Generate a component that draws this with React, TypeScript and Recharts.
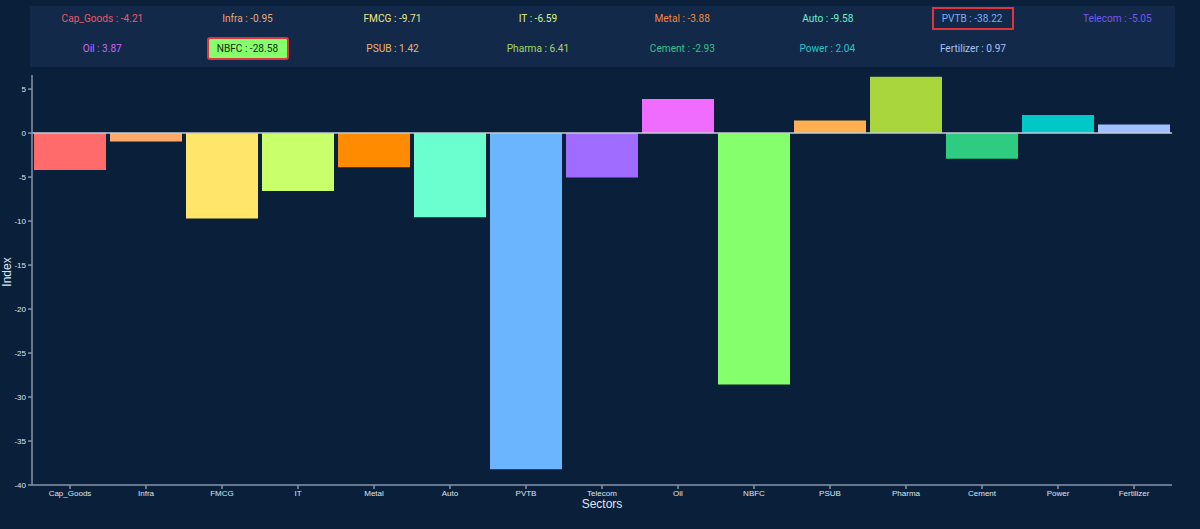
import { BarChart, Bar, XAxis, YAxis, Cell, ReferenceLine } from "recharts";

const sectors = [
  "Cap_Goods", "Infra", "FMCG", "IT", "Metal", "Auto", "PVTB", "Telecom",
  "Oil", "NBFC", "PSUB", "Pharma", "Cement", "Power", "Fertilizer",
];
const values = [
  -4.21, -0.95, -9.71, -6.59, -3.88, -9.58, -38.22, -5.05,
  3.87, -28.58, 1.42, 6.41, -2.93, 2.04, 0.97,
];
const barColors = [
  "#ff6b6b", "#ffa96b", "#ffe66b", "#c8ff6b", "#ff8c00", "#6bffd0", "#6bb5ff", "#a06bff",
  "#f06bff", "#85ff6b", "#ffb050", "#a8d63c", "#2ecc80", "#00c8c8", "#a0c0ff",
];
const legendColors = [
  "#e85a68", "#e8a878", "#f0e488", "#d8f288", "#ee8a3c", "#6af2c8", "#78aef2", "#7458f0",
  "#d068f2", "#1a2a10", "#f0b468", "#a8d85a", "#34c488", "#28c4c8", "#a8c4f2",
];
const yTicks = [-40, -35, -30, -25, -20, -15, -10, -5, 0, 5];

const data = sectors.map((name, i) => ({ name, value: values[i] }));

const BG = "#0a1f3a";
const AXIS = "#8494aa";
const TEXT = "#dfe6ee";

function LegendPanel() {
  return (
    <div
      style={{
        position: "absolute",
        left: 30,
        top: 6,
        width: 1145,
        height: 61,
        background: "#12294a",
        display: "grid",
        gridTemplateColumns: "repeat(8, 145px)",
        gridTemplateRows: "24px 37px",
        fontFamily: "Roboto, sans-serif",
        fontSize: 11,
        overflow: "hidden",
      }}
    >
      {sectors.map((s, i) => {
        const nbfc = s === "NBFC";
        const pvtb = s === "PVTB";
        const boxed = nbfc || pvtb;
        return (
          <div
            key={s}
            style={{ display: "flex", alignItems: "center", justifyContent: "center" }}
          >
            <span
              style={{
                color: legendColors[i],
                padding: boxed ? "3px 0" : 0,
                border: boxed ? "2px solid #e0343c" : "none",
                background: nbfc ? "#85ff6b" : "transparent",
                borderRadius: nbfc ? 3 : 0,
                width: boxed ? 78 : undefined,
                textAlign: "center",
                whiteSpace: "nowrap",
              }}
            >
              <span style={{ display: "inline-block", transform: "scaleX(0.92)" }}>
                {s} : {values[i]}
              </span>
            </span>
          </div>
        );
      })}
    </div>
  );
}

export default function App() {
  return (
    <div
      style={{
        position: "absolute",
        left: 0,
        top: 0,
        width: 1200,
        height: 529,
        background: BG,
        overflow: "hidden",
      }}
    >
      <LegendPanel />
      <BarChart
        width={1200}
        height={529}
        data={data}
        margin={{ top: 75, right: 28, left: 0, bottom: 0 }}
        barCategoryGap={2}
      >
        <XAxis
          dataKey="name"
          height={44}
          stroke={AXIS}
          strokeWidth={1.5}
          tick={{ fill: TEXT, fontSize: 8, fontFamily: "Liberation Sans, Arial" }}
          tickSize={4}
          tickMargin={1}
          interval={0}
          label={{
            value: "Sectors",
            position: "insideBottom",
            offset: 21,
            fill: TEXT,
            fontSize: 12,
            fontFamily: "Liberation Sans, Arial",
          }}
        />
        <YAxis
          width={32}
          domain={[-40, 6.6]}
          ticks={yTicks}
          stroke={AXIS}
          strokeWidth={1.5}
          tick={{ fill: TEXT, fontSize: 8, fontFamily: "Liberation Sans, Arial" }}
          tickSize={4}
          tickMargin={2}
          allowDataOverflow
          label={{
            content: () => (
              <text
                x={11}
                y={272}
                transform="rotate(-90 11 272)"
                textAnchor="middle"
                fill={TEXT}
                fontSize={12}
                fontFamily="Liberation Sans, Arial"
              >
                Index
              </text>
            ),
          }}
        />
        <ReferenceLine y={0} stroke="#c4ccd6" strokeWidth={1.5} />
        <Bar dataKey="value" isAnimationActive={false}>
          {data.map((d, i) => (
            <Cell key={d.name} fill={barColors[i]} />
          ))}
        </Bar>
      </BarChart>
    </div>
  );
}
